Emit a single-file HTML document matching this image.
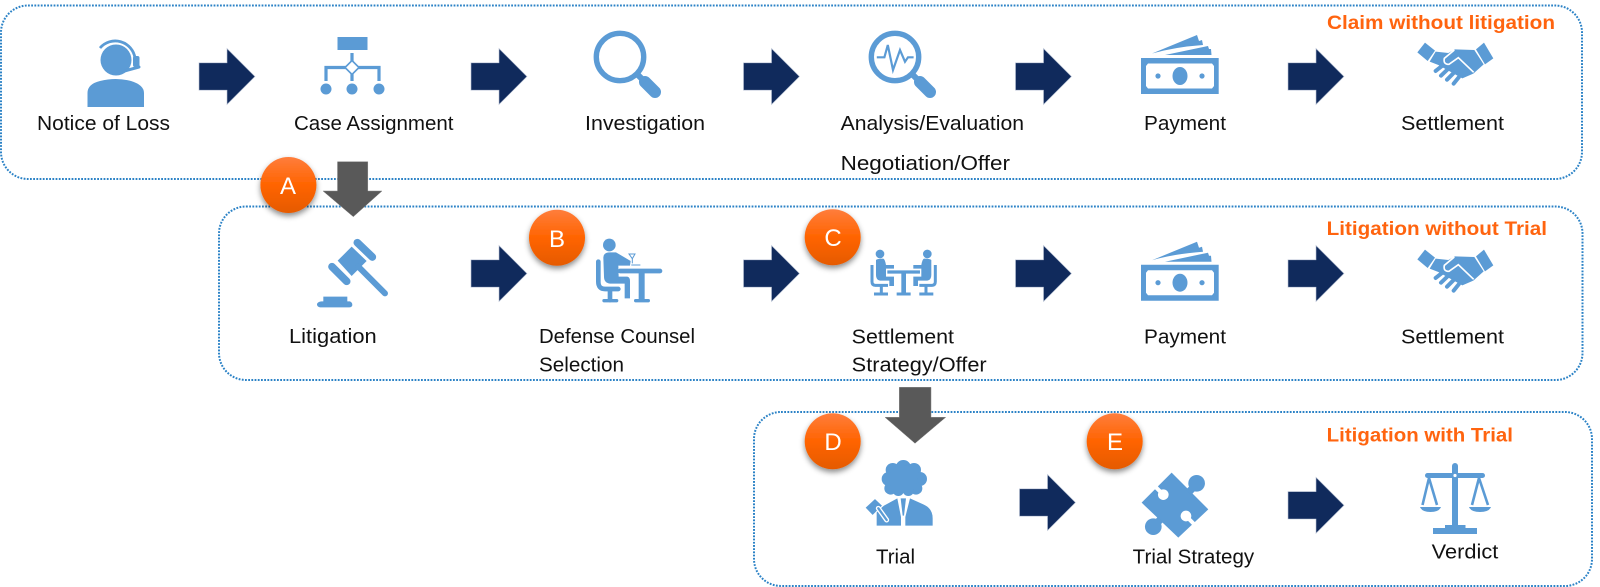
<!DOCTYPE html>
<html><head><meta charset="utf-8"><title>Claim process</title>
<style>
html,body{margin:0;padding:0;background:#fff;width:1600px;height:587px;overflow:hidden}
svg{display:block}
text{font-family:"Liberation Sans",sans-serif}
.t{font-size:20px;fill:#111}
.h{font-size:19px;font-weight:bold;fill:#ff640f}
.c{font-size:24px;fill:#fff;text-anchor:middle}
.b{fill:none;stroke:#2b82c6;stroke-width:2;stroke-dasharray:1.8 1.4}
</style></head><body>
<svg width="1600" height="587" viewBox="0 0 1600 587" xmlns="http://www.w3.org/2000/svg">
<defs>
<linearGradient id="g" x1="0" y1="0" x2="0" y2="1"><stop offset="0" stop-color="#ff7d3c"/><stop offset=".5" stop-color="#ff6400"/><stop offset="1" stop-color="#e55a05"/></linearGradient>
<filter id="s" x="-30%" y="-30%" width="160%" height="170%"><feDropShadow dx="0" dy="3" stdDeviation="3" flood-color="#000" flood-opacity=".45"/></filter>
<path id="ar" d="M0,-13.7 H28 V-28 L56,0 L28,28 V13.7 H0 Z" fill="#102a5c" stroke="#b8c2d4" stroke-width=".6"/>
<g id="pay" fill="#5b9bd5">
 <path fill-rule="evenodd" d="M1141,58 H1218.7 V94 H1141 Z M1148,63.5 L1146,66 V86 L1148,88.5 H1212 L1214,86 V66 L1212,63.5 Z"/>
 <ellipse cx="1180" cy="76" rx="7.5" ry="9"/><circle cx="1158" cy="76" r="2.6"/><circle cx="1202" cy="76" r="2.6"/>
 <path d="M1152,53.5 L1197,35 L1199,41 L1202,40 L1203,45 Q1175,47 1152,53.5 Z"/>
 <path d="M1165,55 L1208,46 L1209,49 L1211,49 L1211.5,55 Z"/>
</g>
<g id="hs" transform="translate(1405,35) scale(.3333)">
 <path fill="#5b9bd5" d="M37,52 L60,23 L90,47 L68,78 Z M213,43 L237,23 L265,70 L240,88 Z"/>
 <path fill="#5b9bd5" d="M74,80 L92,50 L130,54 L150,43 L208,45 L236,88 L205,116 L172,130 L100,90 Z"/>
 <path d="M112,92 L92,108 M128,103 L108,122 M145,115 L126,134 M162,126 L146,146" stroke="#5b9bd5" stroke-width="12" stroke-linecap="round" fill="none"/>
 <path d="M148,45 L118,70 Q114,88 132,88 L160,68 L206,112" fill="none" stroke="#fff" stroke-width="5"/>
</g>
</defs>

<rect class="b" x="1" y="5.5" width="1581" height="173.5" rx="27"/>
<rect class="b" x="219" y="206.5" width="1363.5" height="173.5" rx="27"/>
<rect class="b" x="754" y="412" width="838" height="174" rx="27"/>

<use href="#ar" x="199" y="76.5"/><use href="#ar" x="471" y="76.5"/><use href="#ar" x="743.5" y="76.5"/><use href="#ar" x="1015.5" y="76.5"/><use href="#ar" x="1288" y="76.5"/>
<use href="#ar" x="471" y="273.5"/><use href="#ar" x="743.5" y="273.5"/><use href="#ar" x="1015.5" y="273.5"/><use href="#ar" x="1288" y="273.5"/>
<use href="#ar" x="1019.5" y="502.5"/><use href="#ar" x="1288" y="505.3"/>

<path d="M337.5,161.7 H367.8 V191 H382 L353.3,216.7 L323,191 H337.5 Z" fill="#595959" stroke="#888" stroke-width=".5"/>
<path d="M899.3,387.3 H931 V417.3 H945.7 L915,443.3 L885,417.3 H899.3 Z" fill="#595959" stroke="#888" stroke-width=".5"/>

<!-- person -->
<g fill="#5b9bd5">
 <circle cx="116" cy="60" r="15.5"/>
 <path d="M87.5,107 V93 Q87.5,84 100,81 Q116,77 131,81 Q144,85 144,93 V107 Z"/>
 <path d="M100,48 A20,20 0 0 1 135,58" fill="none" stroke="#5b9bd5" stroke-width="2.8"/>
 <rect x="133" y="56" width="6.5" height="11" rx="2"/>
 <path d="M139,67 L121,72" stroke="#5b9bd5" stroke-width="3" stroke-linecap="round"/>
</g>
<!-- org -->
<g fill="#5b9bd5" stroke="none">
 <rect x="337.5" y="37" width="30" height="13"/>
 <path d="M352,53 V81 M326,81 V67.5 H379 V81" fill="none" stroke="#5b9bd5" stroke-width="3.2"/>
 <path d="M352,60.5 L359,67.5 L352,74.5 L345,67.5 Z" fill="#fff" stroke="#5b9bd5" stroke-width="1.6"/>
 <circle cx="326" cy="89" r="5.5"/><circle cx="352" cy="89" r="5.5"/><circle cx="379" cy="89" r="5.5"/>
</g>
<!-- magnifiers -->
<g fill="none" stroke="#5b9bd5">
 <circle cx="620" cy="57" r="23.7" stroke-width="5.4"/>
 <path d="M645,82 L655,92" stroke-width="12" stroke-linecap="round"/>
 <path d="M637,74 L645,82" stroke-width="6"/>
 <circle cx="895" cy="57" r="23.7" stroke-width="5.4"/>
 <path d="M920,82 L930,92" stroke-width="12" stroke-linecap="round"/>
 <path d="M912,74 L920,82" stroke-width="6"/>
 <path d="M876.8,57.3 H884.4 L887.8,45 L893,70 L900,50 L905,61.7 L908,57.3 H913.6" stroke-width="2.2"/>
</g>
<use href="#pay"/><use href="#hs"/>
<use href="#pay" y="206.7"/><use href="#hs" y="207"/>

<!-- gavel -->
<g transform="translate(210,190) scale(.3333)" fill="#5b9bd5">
 <path d="M383,212 L425,170 L470,213 L425,258 Z"/>
 <path d="M442,158 L487,201 M366,230 L410,274" stroke="#5b9bd5" stroke-width="23" stroke-linecap="round"/>
 <path d="M445,230 L525,310" stroke="#5b9bd5" stroke-width="18" stroke-linecap="round"/>
 <path d="M340,320 H412 V334 H420 Q428,338 427,346 Q425,352 418,352 H330 Q320,350 321,342 Q323,335 335,334 H340 Z"/>
</g>
<!-- desk person -->
<g transform="translate(590,235) scale(.3333)" fill="#5b9bd5" stroke-linecap="round">
 <circle cx="58" cy="30" r="19"/>
 <path d="M40,68 Q40,52 60,52 H78 L122,78 L120,92 L85,92 L86,125 H112 Q120,127 120,138 V190 H104 V146 H60 Q42,144 42,125 Z"/>
 <path d="M25,80 V140 Q25,162 45,162 H85" fill="none" stroke="#5b9bd5" stroke-width="14"/>
 <path d="M60,165 V195" stroke="#5b9bd5" stroke-width="14"/>
 <path d="M42,197 H80 M137,197 H175" stroke="#5b9bd5" stroke-width="10"/>
 <path d="M90,108 H210" stroke="#5b9bd5" stroke-width="14"/>
 <path d="M155,108 V192" stroke="#5b9bd5" stroke-width="18" stroke-linecap="butt"/>
 <path d="M117,57 H135 L127,71 Z" fill="none" stroke="#5b9bd5" stroke-width="3"/>
 <path d="M127,71 V84 M125,90 H150" stroke="#5b9bd5" stroke-width="3"/>
</g>
<!-- meeting -->
<g transform="translate(770,200) scale(.3333)" fill="#5b9bd5">
 <g id="half">
  <circle cx="330" cy="162" r="13"/>
  <path d="M318,180 Q322,176 340,176 Q345,178 348,195 H372 V206 H348 V230 H372 V258 H358 V242 H330 Q318,240 318,225 Z"/>
  <path d="M306,195 V245 Q306,256 316,256 H354" fill="none" stroke="#5b9bd5" stroke-width="9"/>
  <path d="M334,256 V278 M312,282 H354" stroke="#5b9bd5" stroke-width="9"/>
 </g>
 <use href="#half" transform="translate(802,0) scale(-1,1)"/>
 <path d="M352,216 H450" stroke="#5b9bd5" stroke-width="10"/>
 <path d="M401,216 V280" stroke="#5b9bd5" stroke-width="14"/>
 <path d="M380,282 H422" stroke="#5b9bd5" stroke-width="9"/>
</g>
<!-- judge -->
<g transform="translate(860,455) scale(.3333)" fill="#5b9bd5">
 <circle cx="98" cy="45" r="21"/><circle cx="130" cy="38" r="23"/><circle cx="162" cy="45" r="21"/><circle cx="180" cy="72" r="21"/><circle cx="168" cy="100" r="19"/><circle cx="145" cy="106" r="17"/><circle cx="115" cy="106" r="17"/><circle cx="92" cy="100" r="19"/><circle cx="86" cy="72" r="21"/><circle cx="130" cy="72" r="42"/>
 <path d="M50,212 V170 L72,152 L112,130 L123,186 V212 Z M136,212 V186 L150,130 L190,148 Q218,160 218,190 V212 Z"/>
 <path d="M122,130 H138 L132,182 H128 Z"/>
 <path d="M15,158 L45,130 L68,152 L38,182 Z" stroke="#fff" stroke-width="3"/>
 <path d="M55,160 L80,195" stroke="#fff" stroke-width="15" stroke-linecap="round"/>
 <path d="M55,160 L80,195" stroke="#5b9bd5" stroke-width="7" stroke-linecap="round"/>
</g>
<!-- puzzle -->
<g transform="translate(770,380) scale(.3333)">
 <path d="M1115,368 L1205,278 L1315,388 L1225,473 Z" fill="#5b9bd5"/>
 <path d="M1255,338 L1280,312" stroke="#5b9bd5" stroke-width="22"/><circle cx="1280" cy="310" r="25" fill="#5b9bd5"/>
 <path d="M1172,418 L1150,440" stroke="#5b9bd5" stroke-width="22"/><circle cx="1150" cy="440" r="25" fill="#5b9bd5"/>
 <path d="M1156,320 L1176,340" stroke="#fff" stroke-width="12"/><circle cx="1180" cy="344" r="16" fill="#fff"/>
 <path d="M1272,432 L1252,412" stroke="#fff" stroke-width="12"/><circle cx="1248" cy="408" r="16" fill="#fff"/>
</g>
<!-- scales -->
<g fill="#5b9bd5">
 <rect x="1452" y="466" width="6" height="62"/><circle cx="1455" cy="466" r="3"/>
 <rect x="1425" y="473" width="60" height="5" rx="2.5"/>
 <circle cx="1455" cy="475.5" r="1.6" fill="#fff"/>
 <rect x="1445" y="525" width="20.5" height="3"/><rect x="1433" y="528" width="44" height="6"/>
 <path d="M1420,507 H1441 Q1439,512 1430.5,512 Q1422,512 1420,507 Z M1469,507 H1491 Q1489,512 1480,512 Q1471,512 1469,507 Z"/>
 <path d="M1429,478 L1422.5,505 M1429,478 L1437,505 M1479,478 L1472,505 M1479,478 L1488,505" stroke="#5b9bd5" stroke-width="2.6" fill="none"/>
</g>

<!-- labels -->
<text class="t" x="37" y="130" textLength="133" lengthAdjust="spacingAndGlyphs">Notice of Loss</text>
<text class="t" x="294" y="130" textLength="159.5" lengthAdjust="spacingAndGlyphs">Case Assignment</text>
<text class="t" x="585" y="130" textLength="120" lengthAdjust="spacingAndGlyphs">Investigation</text>
<text class="t" x="840.6" y="130" textLength="183.4" lengthAdjust="spacingAndGlyphs">Analysis/Evaluation</text>
<text class="t" x="840.6" y="170" textLength="169.4" lengthAdjust="spacingAndGlyphs">Negotiation/Offer</text>
<text class="t" x="1144" y="130" textLength="82" lengthAdjust="spacingAndGlyphs">Payment</text>
<text class="t" x="1401" y="130" textLength="103" lengthAdjust="spacingAndGlyphs">Settlement</text>
<text class="t" x="289" y="343" textLength="87.7" lengthAdjust="spacingAndGlyphs">Litigation</text>
<text class="t" x="539" y="343" textLength="156" lengthAdjust="spacingAndGlyphs">Defense Counsel</text>
<text class="t" x="539" y="371.7" textLength="85" lengthAdjust="spacingAndGlyphs">Selection</text>
<text class="t" x="851.7" y="343.3" textLength="102.3" lengthAdjust="spacingAndGlyphs">Settlement</text>
<text class="t" x="851.7" y="371.7" textLength="135" lengthAdjust="spacingAndGlyphs">Strategy/Offer</text>
<text class="t" x="1144" y="343.3" textLength="82" lengthAdjust="spacingAndGlyphs">Payment</text>
<text class="t" x="1401" y="343.3" textLength="103" lengthAdjust="spacingAndGlyphs">Settlement</text>
<text class="t" x="876" y="563.3" textLength="39" lengthAdjust="spacingAndGlyphs">Trial</text>
<text class="t" x="1132.7" y="563.3" textLength="121.5" lengthAdjust="spacingAndGlyphs">Trial Strategy</text>
<text class="t" x="1431.7" y="558.3" textLength="66.6" lengthAdjust="spacingAndGlyphs">Verdict</text>
<text class="h" x="1327" y="29" textLength="228" lengthAdjust="spacingAndGlyphs">Claim without litigation</text>
<text class="h" x="1326.7" y="235" textLength="220.3" lengthAdjust="spacingAndGlyphs">Litigation without Trial</text>
<text class="h" x="1326.7" y="441.7" textLength="186.3" lengthAdjust="spacingAndGlyphs">Litigation with Trial</text>

<!-- badges -->
<g filter="url(#s)" fill="url(#g)">
 <circle cx="288.4" cy="185" r="28"/><circle cx="557" cy="237.7" r="28"/><circle cx="832.7" cy="237.3" r="28"/><circle cx="832.7" cy="441.3" r="28"/><circle cx="1114.7" cy="441.3" r="28"/>
</g>
<text class="c" x="288" y="194">A</text>
<text class="c" x="557" y="247">B</text>
<text class="c" x="833" y="246">C</text>
<text class="c" x="833" y="450">D</text>
<text class="c" x="1115" y="450">E</text>
</svg>
</body></html>
